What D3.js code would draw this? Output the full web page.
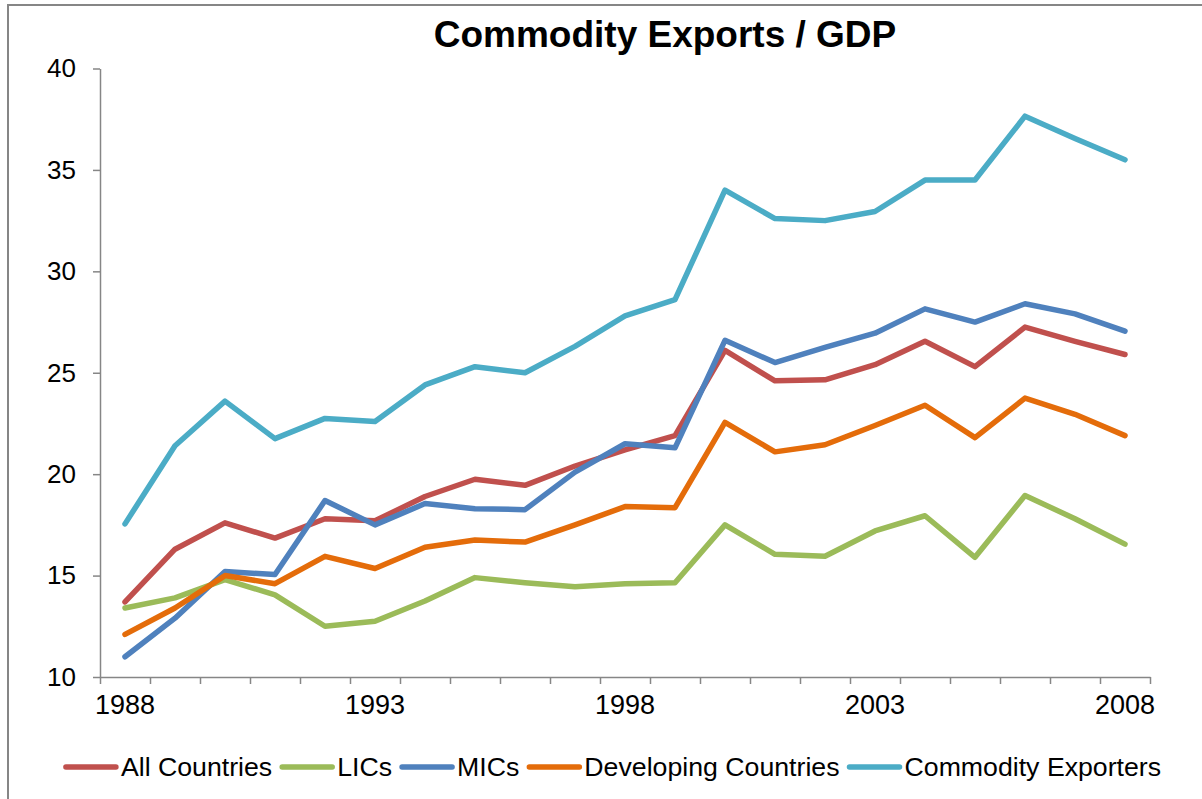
<!DOCTYPE html>
<html>
<head>
<meta charset="utf-8">
<script src="https://cdn.jsdelivr.net/npm/d3@7"></script>
<style>
  body { margin: 0; background: #fff; }
  svg text { font-family: Arial, "Liberation Sans", sans-serif; fill: #000; }
  .axis path, .axis line { stroke: #868686; stroke-width: 1.5; }
</style>
</head>
<body>
<div id="chart"></div>
<script>
'use strict';

var years = d3.range(1988, 2009);
var yearLabels = [1988, 1993, 1998, 2003, 2008];
var yTicks = [10, 15, 20, 25, 30, 35, 40];

var allCountries = [13.7, 16.3, 17.6, 16.85, 17.8, 17.7, 18.9, 19.75, 19.45, 20.4, 21.2, 21.9, 26.1, 24.6, 24.65, 25.4, 26.55, 25.3, 27.25, 26.55, 25.9];
var lics = [13.4, 13.9, 14.8, 14.05, 12.5, 12.75, 13.75, 14.9, 14.65, 14.45, 14.6, 14.65, 17.5, 16.05, 15.95, 17.2, 17.95, 15.9, 18.95, 17.8, 16.55];
var mics = [11.0, 12.9, 15.2, 15.05, 18.7, 17.5, 18.55, 18.3, 18.25, 20.1, 21.5, 21.3, 26.6, 25.5, 26.25, 26.95, 28.15, 27.5, 28.4, 27.9, 27.05];
var developing = [12.1, 13.4, 15.0, 14.6, 15.95, 15.35, 16.4, 16.75, 16.65, 17.5, 18.4, 18.35, 22.55, 21.1, 21.45, 22.4, 23.4, 21.8, 23.75, 22.95, 21.9];
var commodityExp = [17.55, 21.4, 23.6, 21.75, 22.75, 22.6, 24.4, 25.3, 25.0, 26.3, 27.8, 28.6, 34.0, 32.6, 32.5, 32.95, 34.5, 34.5, 37.65, 36.55, 35.5];

var seriesNames = ['All Countries', 'LICs', 'MICs', 'Developing Countries', 'Commodity Exporters'];
var seriesColors = ['#C0504D', '#9BBB59', '#4F81BD', '#E46C0A', '#4BACC6'];
var seriesValues = [allCountries, lics, mics, developing, commodityExp];

var chart = {};
chart.width = 1202;
chart.height = 799;
chart.plot = {left: 100, right: 1150, top: 68.5, bottom: 677};

var svg = d3.select('#chart').append('svg')
    .attr('width', chart.width)
    .attr('height', chart.height);

// outer frame (only top and left visible)
svg.append('rect')
    .attr('x', 8).attr('y', 5)
    .attr('width', 1300).attr('height', 900)
    .attr('fill', 'none')
    .attr('stroke', '#868686')
    .attr('stroke-width', 2);

var x = d3.scaleBand().domain(years).range([chart.plot.left, chart.plot.right]).padding(0);
var xEdge = d3.scaleLinear().domain([1987.5, 2008.5]).range([chart.plot.left, chart.plot.right]);
var y = d3.scaleLinear().domain([10, 40]).range([chart.plot.bottom, chart.plot.top]);

// title
svg.append('text')
    .attr('x', 665).attr('y', 47)
    .attr('text-anchor', 'middle')
    .style('font-size', '37px')
    .style('font-weight', 'bold')
    .text('Commodity Exports / GDP');

// y axis
var yAxisGroup = svg.append('g')
    .attr('class', 'axis')
    .attr('transform', 'translate(' + chart.plot.left + ',0)')
    .call(d3.axisLeft(y).tickValues(yTicks).tickSizeInner(7).tickSizeOuter(0).tickPadding(17));
yAxisGroup.selectAll('text').style('font-size', '26px');

// x axis: ticks between categories
var boundaries = d3.range(1987.5, 2009, 1);
svg.append('g')
    .attr('class', 'axis')
    .attr('transform', 'translate(0,' + chart.plot.bottom + ')')
    .call(d3.axisBottom(xEdge).tickValues(boundaries).tickFormat('').tickSizeInner(7).tickSizeOuter(0));

var xLabelGroup = svg.append('g')
    .attr('transform', 'translate(0,' + chart.plot.bottom + ')')
    .call(d3.axisBottom(x).tickValues(yearLabels).tickSize(0).tickPadding(18));
xLabelGroup.select('.domain').remove();
xLabelGroup.selectAll('text').style('font-size', '27px');

// lines
var line = d3.line()
    .x(function (d, i) { return x(years[i]) + x.bandwidth() / 2; })
    .y(function (d) { return y(d); });

svg.append('g').selectAll('path')
    .data(seriesValues)
    .enter()
    .append('path')
    .attr('d', line)
    .attr('fill', 'none')
    .attr('stroke', function (d, i) { return seriesColors[i]; })
    .attr('stroke-width', 5.5)
    .attr('stroke-linejoin', 'round')
    .attr('stroke-linecap', 'round');

// legend
var legend = svg.append('g').attr('class', 'legend');
var legendY = 767;
var sampleLen = 53;
var cursor = 0;
seriesNames.forEach(function (name, i) {
    var g = legend.append('g');
    g.append('line')
        .attr('x1', 3).attr('x2', sampleLen)
        .attr('y1', 0).attr('y2', 0)
        .attr('stroke', seriesColors[i])
        .attr('stroke-width', 5.5)
        .attr('stroke-linecap', 'round');
    var t = g.append('text')
        .attr('x', sampleLen + 5)
        .attr('dy', '0.35em')
        .style('font-size', '26.7px')
        .text(name);
    var w = sampleLen + 5 + t.node().getComputedTextLength();
    g.attr('transform', 'translate(' + cursor + ',' + legendY + ')');
    cursor += w + 7;
});
var totalW = cursor - 7;
legend.attr('transform', 'translate(' + (612 - totalW / 2) + ',0)');
</script>
</body>
</html>
